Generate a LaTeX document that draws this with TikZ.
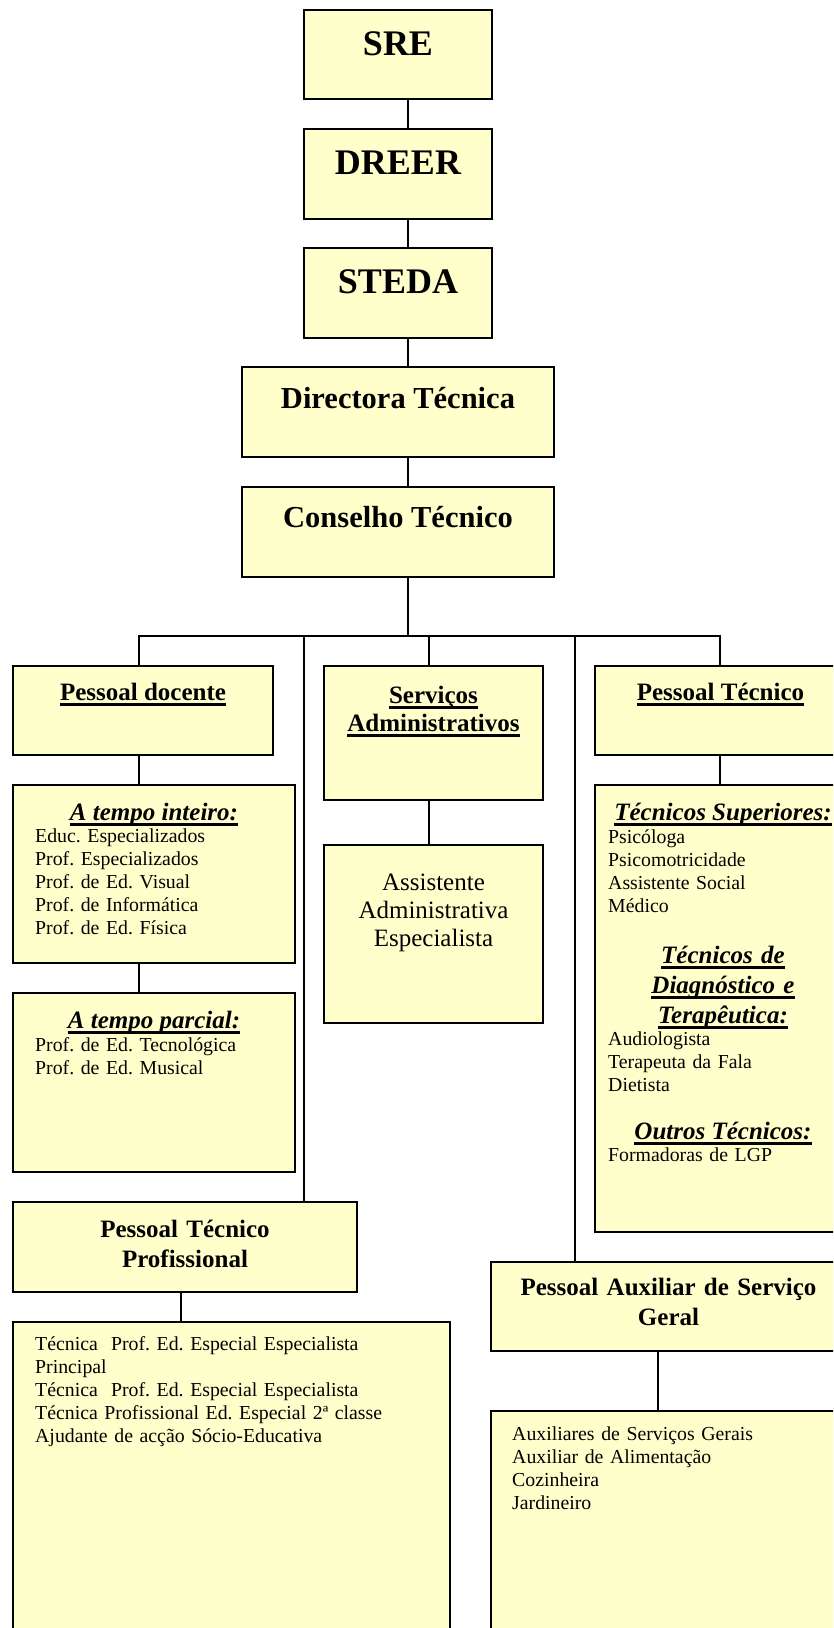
\documentclass[tikz,border=0pt]{standalone}
\usepackage{fontspec}
\setmainfont{Liberation Serif}
\frenchspacing
\definecolor{boxfill}{HTML}{FFFFCC}
\newcommand\myul[1]{\leavevmode\setbox0\hbox{#1}\rlap{\rule[-5.5pt]{\wd0}{2.4pt}}\box0}
\newcommand\orgbox[5]{\node[box, minimum width={(#4-#2)*1pt}, minimum height={(#5-#3)*1pt}] (#1) at (#2,#3) {};}
\tikzset{
  box/.style={draw=black, line width=2.4pt, fill=boxfill, rectangle, inner sep=0pt, outer sep=0pt, anchor=north west},
  link/.style={draw=black, line width=2pt},
  bigttl/.style={anchor=base, inner sep=0pt, font=\fontsize{36}{40}\selectfont\bfseries},
  midttl/.style={anchor=base, inner sep=0pt, font=\fontsize{30.5}{34}\selectfont\bfseries},
  hdr/.style={anchor=base, inner sep=0pt, align=center, font=\fontsize{25}{30}\selectfont\bfseries},
  ihdr/.style={anchor=base, inner sep=0pt, align=center, font=\fontsize{25}{30}\selectfont\bfseries\itshape},
  body/.style={anchor=base west, inner sep=0pt, align=left, text width=420pt, font=\fontsize{19.8}{23}\selectfont},
}
\begin{document}
\begin{tikzpicture}[x=1pt,y=-1pt]
\useasboundingbox (0,0) rectangle (833,1628);
\clip (0,0) rectangle (833,1628);
\fill[white] (0,0) rectangle (833,1628);

% boxes
\orgbox{sre}{304}{10}{492}{99}
\orgbox{dreer}{304}{129}{492}{219}
\orgbox{steda}{304}{248}{492}{338}
\orgbox{dir}{242}{367}{554}{457}
\orgbox{cons}{242}{487}{554}{577}
\orgbox{pd}{13}{666}{273}{755}
\orgbox{sa}{324}{666}{543}{800}
\orgbox{pt}{595}{666}{846}{755}
\orgbox{ti}{13}{785}{295}{963}
\orgbox{tp}{13}{993}{295}{1172}
\orgbox{asst}{324}{845}{543}{1023}
\orgbox{tec}{595}{785}{846}{1232}
\orgbox{ptp}{13}{1202}{357}{1292}
\orgbox{bl}{13}{1322}{450}{1645}
\orgbox{aux}{491}{1262}{846}{1351}
\orgbox{br}{491}{1411}{846}{1645}

% connector coordinates
\coordinate (stem) at (408,0);
\coordinate (d1) at (139,636);
\coordinate (d2) at (304,636);
\coordinate (d3) at (429,636);
\coordinate (d4) at (575,636);
\coordinate (d5) at (720,636);
\coordinate (d6) at (181,0);
\coordinate (d7) at (658,0);

% connectors
\draw[link] (sre.south -| stem) -- (dreer.north -| stem);
\draw[link] (dreer.south -| stem) -- (steda.north -| stem);
\draw[link] (steda.south -| stem) -- (dir.north -| stem);
\draw[link] (dir.south -| stem) -- (cons.north -| stem);
\draw[link] (cons.south -| stem) -- (stem |- d1);
\draw[link] (d1 |- pd.north) -- (d1) -- (d5) -- (d5 |- pt.north);
\draw[link] (d2) -- (d2 |- ptp.north);
\draw[link] (d3) -- (d3 |- sa.north);
\draw[link] (d4) -- (d4 |- aux.north);
\draw[link] (pd.south -| d1) -- (ti.north -| d1);
\draw[link] (ti.south -| d1) -- (tp.north -| d1);
\draw[link] (sa.south -| d3) -- (asst.north -| d3);
\draw[link] (pt.south -| d5) -- (tec.north -| d5);
\draw[link] (ptp.south -| d6) -- (bl.north -| d6);
\draw[link] (aux.south -| d7) -- (br.north -| d7);

% titles
\node[bigttl] (sre-t) at (398,55) {SRE};
\node[bigttl] (dreer-t) at (398,174) {DREER};
\node[bigttl] (steda-t) at (398,293) {STEDA};
\node[midttl] (dir-t) at (398,408) {Directora Técnica};
\node[midttl] (cons-t) at (398,527) {Conselho Técnico};

% headers
\node[hdr] (pd-t) at (143,700) {\myul{Pessoal docente}};
\node[hdr, text width=219pt, font=\fontsize{25}{28}\selectfont\bfseries] (sa-t) at (433.5,703) {\myul{Serviços}\\\myul{Administrativos}};
\node[hdr] (pt-t) at (720.5,700) {\myul{Pessoal Técnico}};
\node[hdr, text width=340pt] (ptp-t) at (185,1237) {Pessoal Técnico\\Profissional};
\node[hdr, text width=350pt] (aux-t) at (668.5,1295) {Pessoal Auxiliar de Serviço\\Geral};

% Pessoal docente details
\node[ihdr] (ti-h) at (154,820) {\myul{A tempo inteiro:}};
\node[body] (ti-b) at (35,842) {Educ. Especializados\\Prof. Especializados\\Prof. de Ed. Visual\\Prof. de Informática\\Prof. de Ed. Física};
\node[ihdr] (tp-h) at (154,1028) {\myul{A tempo parcial:}};
\node[body] (tp-b) at (35,1051) {Prof. de Ed. Tecnológica\\Prof. de Ed. Musical};

% Serviços administrativos details
\node[anchor=base, inner sep=0pt, align=center, text width=219pt, font=\fontsize{25}{28}\selectfont] (asst-t) at (433.5,890) {Assistente\\Administrativa\\Especialista};

% Pessoal técnico details
\node[ihdr] (tec-h1) at (723,820) {\myul{Técnicos Superiores:}};
\node[body, font=\fontsize{19.8}{23.2}\selectfont] (tec-b1) at (608,843) {Psicóloga\\Psicomotricidade\\Assistente Social\\Médico};
\node[ihdr, text width=240pt] (tec-h2) at (723,963) {\myul{Técnicos de}\\\myul{Diagnóstico e}\\\myul{Terapêutica:}};
\node[body] (tec-b2) at (608,1045) {Audiologista\\Terapeuta da Fala\\Dietista};
\node[ihdr] (tec-h3) at (723,1139) {\myul{Outros Técnicos:}};
\node[body] (tec-b3) at (608,1161) {Formadoras de LGP};

% bottom boxes
\node[body] (bl-b) at (35,1350) {Técnica\ \ Prof. Ed. Especial Especialista\\Principal\\Técnica\ \ Prof. Ed. Especial Especialista\\Técnica Profissional Ed. Especial 2ª classe\\Ajudante de acção Sócio-Educativa};
\node[body, font=\fontsize{19.8}{23.3}\selectfont] (br-b) at (512,1440) {Auxiliares de Serviços Gerais\\Auxiliar de Alimentação\\Cozinheira\\Jardineiro};
\end{tikzpicture}
\end{document}
